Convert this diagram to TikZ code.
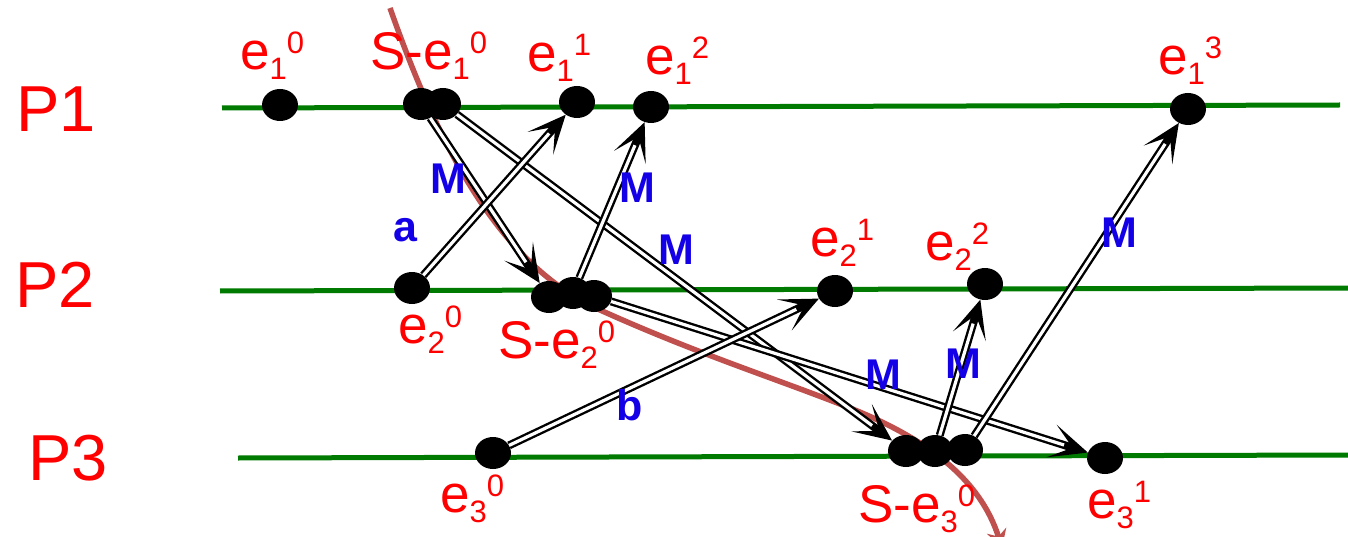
\documentclass[tikz,border=0pt]{standalone}
\usepackage{fontspec}
\setmainfont{Liberation Sans}
\usetikzlibrary{shapes.geometric,arrows.meta}
\definecolor{pgreen}{RGB}{0,122,0}
\definecolor{cutred}{RGB}{192,80,77}
\definecolor{lblue}{RGB}{20,0,230}
\newcommand\ev[3]{#1\raisebox{-10pt}{\fontsize{31}{31}\selectfont #2}\raisebox{16pt}{\fontsize{31}{31}\selectfont #3}}
\begin{document}
\begin{tikzpicture}[x=1pt,y=-1pt,
  proc/.style={draw=pgreen,line width=5pt},
  dot/.style={ellipse,fill=black,minimum width=36pt,minimum height=32pt,inner sep=0pt},
  msg/.style={draw=black,line width=8pt,
    -{Stealth[length=38pt,width=34pt,inset=22pt]},
    postaction={draw=white,line width=3.2pt,-,shorten >=25pt}},
  evlbl/.style={text=red,inner sep=0pt,anchor=base west,font=\fontsize{53}{60}\selectfont},
  plbl/.style={text=red,inner sep=0pt,anchor=base west,font=\fontsize{65}{70}\selectfont},
  mlbl/.style={text=lblue,inner sep=0pt,font=\bfseries\fontsize{43}{46}\selectfont},
  cut/.style={draw=cutred,line width=5.5pt,-{Stealth[length=18pt,width=20pt,inset=6pt]}}]
\useasboundingbox (0,0) rectangle (1348,537);
% process lines
\coordinate (p1s) at (222,108); \coordinate (p1e) at (1340,105);
\coordinate (p2s) at (220,291); \coordinate (p2e) at (1348,288);
\coordinate (p3s) at (238,458); \coordinate (p3e) at (1348,455);
\draw[proc] (p1s) -- (p1e);
\draw[proc] (p2s) -- (p2e);
\draw[proc] (p3s) -- (p3e);
% process labels
\node[plbl] (P1) at (16,132) {P1};
\node[plbl] (P2) at (15,307) {P2};
\node[plbl] (P3) at (28,480) {P3};
% cut curve
\coordinate (c0) at (390,8);
\coordinate (c1) at (600,310);
\coordinate (c2) at (850,408);
\coordinate (c3) at (1002,548);
\draw[cut] (c0) .. controls (440,150) and (500,265) .. (c1)
  .. controls (700,355) and (780,380) .. (c2)
  .. controls (925,438) and (980,478) .. (c3);
% events P1
\node[dot] (e10) at (280,105) {};
\node[dot] (s1a) at (421,104) {};
\node[dot] (s1b) at (443,104) {};
\node[dot] (e11) at (577,102) {};
\node[dot] (e12) at (651,107) {};
\node[dot] (e13) at (1188,109) {};
% events P2
\node[dot] (e20) at (412,288) {};
\node[dot] (s2a) at (549,297) {};
\node[dot] (s2b) at (573,293) {};
\node[dot] (s2c) at (594,296) {};
\node[dot] (e21) at (835,291) {};
\node[dot] (e22) at (985,284) {};
% events P3
\node[dot] (e30) at (493,453) {};
\node[dot] (s3a) at (906,451) {};
\node[dot] (s3b) at (935,451) {};
\node[dot] (s3c) at (965,450) {};
\node[dot] (e31) at (1105,458) {};
% messages
\draw[msg] (s1a) -- (s2a);
\draw[msg] (s1b) -- (s3a);
\draw[msg] (e20) -- (e11);
\draw[msg] (s2b) -- (e12);
\draw[msg] (s2c) -- (e31);
\draw[msg] (e30) -- (e21);
\draw[msg] (s3b) -- (e22);
\draw[msg] (s3c) -- (e13);
% message labels
\node[mlbl] (m1) at (448,179) {M};
\node[mlbl] (m2) at (637,188) {M};
\node[mlbl] (m3) at (676,250) {M};
\node[mlbl] (la) at (405,230) {a};
\node[mlbl] (m4) at (883,375) {M};
\node[mlbl] (m5) at (963,364) {M};
\node[mlbl] (lb) at (630,405) {b};
\node[mlbl] (m6) at (1119,233) {M};
% event labels
\node[evlbl] (t10) at (240,70) {\ev{e}{1}{0}};
\node[evlbl] (ts1) at (370,70) {\ev{S-e}{1}{0}};
\node[evlbl] (t11) at (527,72) {\ev{e}{1}{1}};
\node[evlbl] (t12) at (645,75) {\ev{e}{1}{2}};
\node[evlbl] (t13) at (1158,75) {\ev{e}{1}{3}};
\node[evlbl] (t21) at (810,256) {\ev{e}{2}{1}};
\node[evlbl] (t22) at (925,260) {\ev{e}{2}{2}};
\node[evlbl] (t20) at (398,343) {\ev{e}{2}{0}};
\node[evlbl] (ts2) at (498,358) {\ev{S-e}{2}{0}};
\node[evlbl] (t30) at (440,512) {\ev{e}{3}{0}};
\node[evlbl] (ts3) at (858,522) {\ev{S-e}{3}{0}};
\node[evlbl] (t31) at (1087,518) {\ev{e}{3}{1}};
\end{tikzpicture}
\end{document}
